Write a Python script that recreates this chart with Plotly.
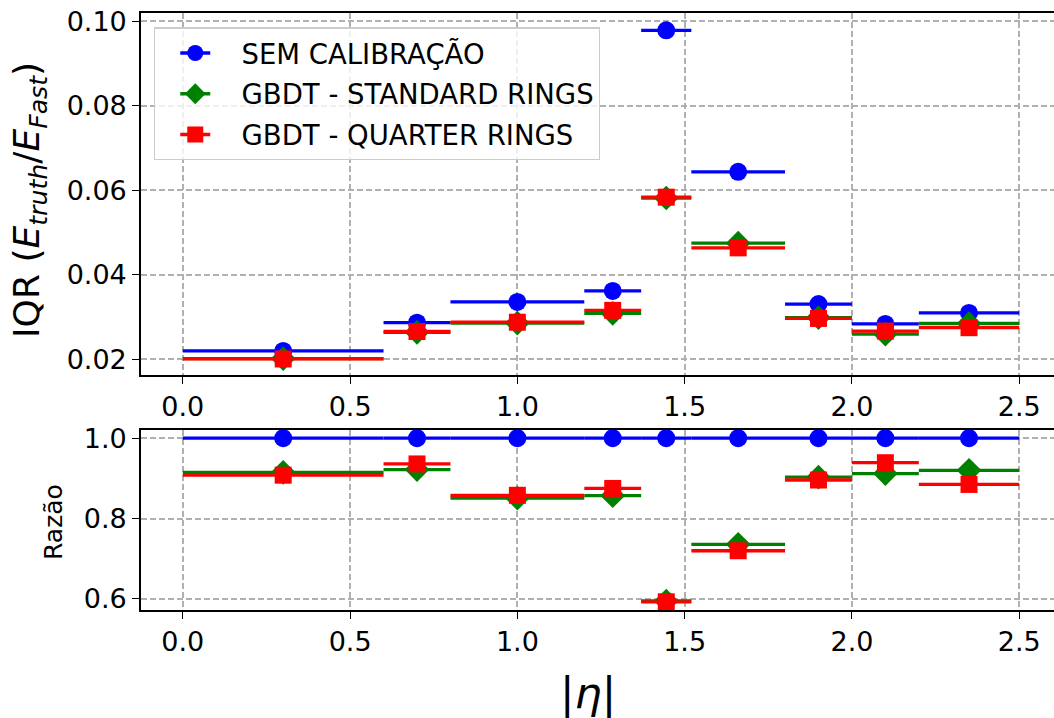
import plotly.graph_objects as go

# ---- data ----
eta_edges = [0.0, 0.6, 0.8, 1.2, 1.37, 1.52, 1.8, 2.0, 2.2, 2.5]

iqr_sem = [0.0220, 0.0287, 0.0336, 0.0362, 0.0979, 0.0644, 0.0331, 0.0284, 0.0310]
iqr_std = [0.0202, 0.0264, 0.0286, 0.0309, 0.0582, 0.0475, 0.0299, 0.0260, 0.0285]
iqr_qtr = [0.0201, 0.0266, 0.0288, 0.0316, 0.0584, 0.0464, 0.0297, 0.0267, 0.0275]

ratio_sem = [1.0, 1.0, 1.0, 1.0, 1.0, 1.0, 1.0, 1.0, 1.0]
ratio_std = [0.915, 0.922, 0.851, 0.857, 0.595, 0.736, 0.903, 0.912, 0.920]
ratio_qtr = [0.908, 0.936, 0.858, 0.875, 0.593, 0.720, 0.896, 0.939, 0.885]

names = ["SEM CALIBRAÇÃO", "GBDT - STANDARD RINGS", "GBDT - QUARTER RINGS"]
colors = ["#0000ff", "#008000", "#ff0000"]
symbols = ["circle", "diamond", "square"]
sizes = [18, 19, 17]

centers = [(a + b) / 2 for a, b in zip(eta_edges[:-1], eta_edges[1:])]
halfw = [(b - a) / 2 for a, b in zip(eta_edges[:-1], eta_edges[1:])]

FONT = "DejaVu Sans"
fig = go.Figure()

top = [iqr_sem, iqr_std, iqr_qtr]
bot = [ratio_sem, ratio_std, ratio_qtr]

for vals, xr, yr in [(top, "x", "y"), (bot, "x2", "y2")]:
    for i in range(3):
        fig.add_trace(go.Scatter(
            x=centers, y=vals[i], xaxis=xr, yaxis=yr, mode="markers",
            marker=dict(symbol=symbols[i], size=sizes[i], color=colors[i], line=dict(width=0)),
            error_x=dict(type="data", array=halfw, symmetric=True, thickness=3.3, width=0, color=colors[i]),
            showlegend=False, hoverinfo="skip"))

# legend entries (line through marker, as in the original legend)
for i in range(3):
    fig.add_trace(go.Scatter(
        x=[None], y=[None], xaxis="x", yaxis="y", mode="lines+markers",
        name="\u00a0\u00a0\u00a0" + names[i],
        line=dict(color=colors[i], width=3.3),
        marker=dict(symbol=symbols[i], size=sizes[i], color=colors[i], line=dict(width=0)),
        legendgroup=f"g{i}", showlegend=True))

grid = dict(showgrid=True, gridcolor="#b0b0b0", gridwidth=1.6, griddash="6px,3px")
axfont = dict(family=FONT, size=27, color="black")
xcommon = dict(range=[-0.125, 2.604], tickmode="array", tickvals=[0, 0.5, 1.0, 1.5, 2.0, 2.5],
               ticktext=["0.0", "0.5", "1.0", "1.5", "2.0", "2.5"], ticks="outside", ticklen=7,
               tickwidth=1.4, tickcolor="black", showline=True, linecolor="black", linewidth=1.6,
               mirror=True, zeroline=False, tickfont=axfont, **grid)
ycommon = dict(ticks="outside", ticklen=7, tickwidth=1.4, tickcolor="black", showline=True,
               linecolor="black", linewidth=1.6, mirror=False, zeroline=False, tickfont=axfont, **grid)

fig.update_layout(
    width=1054, height=718,
    margin=dict(l=141, r=0, t=13, b=108),
    paper_bgcolor="white", plot_bgcolor="white",
    font=dict(family=FONT, color="black"),
    xaxis=dict(domain=[0, 1], anchor="y", **xcommon),
    yaxis=dict(domain=[0.3936, 1], anchor="x", range=[0.0163, 0.1020], tickmode="array",
               tickvals=[0.02, 0.04, 0.06, 0.08, 0.10], ticktext=["0.02", "0.04", "0.06", "0.08", "0.10"],
               **ycommon),
    xaxis2=dict(domain=[0, 1], anchor="y2", **xcommon),
    yaxis2=dict(domain=[0, 0.3015], anchor="x2", range=[0.5726, 1.0204], tickmode="array",
                tickvals=[0.6, 0.8, 1.0], ticktext=["0.6", "0.8", "1.0"], **ycommon),
    legend=dict(x=0.0142, y=0.976, xanchor="left", yanchor="top", bgcolor="rgba(255,255,255,0.8)",
                bordercolor="#cccccc", borderwidth=1.3, font=dict(family=FONT, size=27.5, color="black"),
                tracegroupgap=2, indentation=20),
    annotations=[
        dict(text="IQR (<i>E</i><sub><i>truth</i></sub>/<i>E</i><sub><i>Fast</i></sub>)",
             xref="paper", yref="paper", x=0, y=(610 - 200) / 597, xshift=30 - 141, textangle=-90,
             xanchor="center", yanchor="middle", showarrow=False,
             font=dict(family=FONT, size=36, color="black")),
        dict(text="Razão", xref="paper", yref="paper", x=0, y=(610 - 522) / 597, xshift=53 - 141,
             textangle=-90, xanchor="center", yanchor="middle", showarrow=False,
             font=dict(family=FONT, size=25, color="black")),
        dict(text="|<i>η</i>|", xref="paper", yref="paper", x=(588 - 141) / 913, y=0,
             yshift=-(693 - 610), xanchor="center", yanchor="middle", showarrow=False,
             font=dict(family=FONT, size=43, color="black")),
    ],
)

fig.write_html("out.html")
